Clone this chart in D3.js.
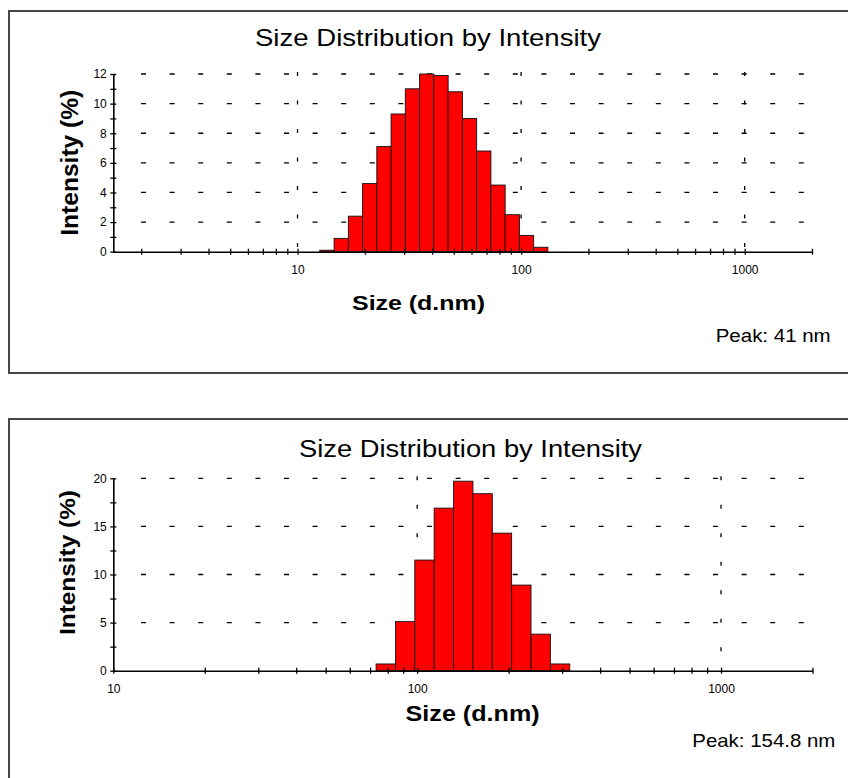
<!DOCTYPE html>
<html>
<head>
<meta charset="utf-8">
<script src="https://cdn.jsdelivr.net/npm/d3@7"></script>
<style>
  html, body { margin: 0; padding: 0; background: #fff; }
  svg { display: block; }
</style>
</head>
<body>
<svg id="chart"></svg>
<script>
// size classes (d.nm) and intensity (%)
const topSizes = [13.54, 15.69, 18.17, 21.04, 24.36, 28.21, 32.67, 37.84, 43.82, 50.75, 58.77, 68.06, 78.82, 91.28, 105.7, 122.4]
const topIntensity = [0.1, 0.9, 2.4, 4.6, 7.1, 9.3, 11.0, 12.0, 11.9, 10.8, 9.0, 6.8, 4.5, 2.5, 1.1, 0.3]
const bottomSizes = [78.82, 91.28, 105.7, 122.4, 141.8, 164.2, 190.1, 220.2, 255.0, 295.3]
const bottomIntensity = [0.7, 5.1, 11.5, 16.9, 19.7, 18.4, 14.3, 8.9, 3.8, 0.7]

const xTickLabels = [10, 100, 1000]
const topYLabels = [0, 2, 4, 6, 8, 10, 12]
const bottomYLabels = [0, 5, 10, 15, 20]

const chartTitle = 'Size Distribution by Intensity'
const xTitle = 'Size (d.nm)'
const yTitle = 'Intensity (%)'
const topPeak = 'Peak: 41 nm'
const bottomPeak = 'Peak: 154.8 nm'

const font = "'Liberation Sans', Arial, sans-serif"

const svg = d3.select('#chart')
  .attr('width', 848)
  .attr('height', 778)

const panels = [
  {
    sizes: topSizes, values: topIntensity, yLabels: topYLabels, peak: topPeak,
    xDomain: [1.5, 2000], yMax: 12, yStep: 1,
    frame: {y: 11, h: 362},
    plot: {left: 113.3, right: 812, top: 74, bottom: 251.7},
    title: {x: 255, y: 46, size: 24, len: 346},
    xLab: {x: 352, y: 310, size: 21, len: 133},
    yLab: {x: 78, y: 162.7, size: 23, len: 146},
    peakLab: {x: 715.7, y: 342.3, size: 18, len: 115}
  },
  {
    sizes: bottomSizes, values: bottomIntensity, yLabels: bottomYLabels, peak: bottomPeak,
    xDomain: [10, 2000], yMax: 20, yStep: 2.5,
    frame: {y: 419, h: 400},
    plot: {left: 113.3, right: 812.5, top: 478.3, bottom: 670.7},
    title: {x: 299, y: 456.7, size: 23, len: 343},
    xLab: {x: 405.6, y: 721.4, size: 22, len: 134},
    yLab: {x: 75, y: 562.5, size: 22, len: 145},
    peakLab: {x: 692.3, y: 747, size: 19, len: 143}
  }
]

panels.forEach(p => drawPanel(p))

function drawPanel(p) {
  const g = svg.append('g')

  g.append('rect')
    .attr('x', 9)
    .attr('y', p.frame.y)
    .attr('width', 900)
    .attr('height', p.frame.h)
    .attr('fill', 'none')
    .attr('stroke', '#474747')
    .attr('stroke-width', 2)

  const x = d3.scaleLog().domain(p.xDomain).range([p.plot.left, p.plot.right])
  const y = d3.scaleLinear().domain([0, p.yMax]).range([p.plot.bottom, p.plot.top])

  // dashed grid
  g.append('g')
    .selectAll('line')
    .data(p.yLabels.filter(d => d > 0))
    .join('line')
    .attr('x1', p.plot.left + 27.7)
    .attr('x2', p.plot.right - 4)
    .attr('y1', d => y(d))
    .attr('y2', d => y(d))
    .attr('stroke', '#000')
    .attr('stroke-width', 1.3)
    .attr('stroke-dasharray', '5,23.6')

  g.append('g')
    .selectAll('line')
    .data(xTickLabels.filter(d => d > p.xDomain[0]))
    .join('line')
    .attr('x1', d => x(d))
    .attr('x2', d => x(d))
    .attr('y1', y(p.yMax) - 2)
    .attr('y2', y(0) - 3)
    .attr('stroke', '#000')
    .attr('stroke-width', 1.3)
    .attr('stroke-dasharray', '4,24.5')

  // bars centred on each size class, edges half a class step either side
  const half = Math.sqrt(p.sizes[1] / p.sizes[0])
  const bars = p.sizes.map((s, i) => ({size: s, value: p.values[i]}))

  g.append('g')
    .selectAll('rect')
    .data(bars)
    .join('rect')
    .attr('x', d => x(d.size / half))
    .attr('width', d => x(d.size * half) - x(d.size / half))
    .attr('y', d => y(d.value))
    .attr('height', d => y(0) - y(d.value))
    .attr('fill', '#ff0000')
    .attr('stroke', '#111')
    .attr('stroke-width', 0.9)

  // axes with crossing ticks
  const axisX = d3.axisBottom(x)
    .tickValues(x.ticks())
    .tickFormat(d => xTickLabels.includes(d) ? d : '')
    .tickSizeOuter(0)

  const gx = g.append('g')
    .attr('transform', `translate(0, ${y(0)})`)
    .call(axisX)
    .attr('font-family', font)
    .attr('font-size', 12)
  gx.select('.domain').attr('stroke-width', 1.6)
  gx.selectAll('.tick line').attr('y1', -3).attr('y2', 3).attr('stroke-width', 1.3)
  gx.selectAll('.tick text').attr('y', 13.5).attr('fill', '#000')

  const axisY = d3.axisLeft(y)
    .tickValues(d3.range(0, p.yMax + 0.001, p.yStep))
    .tickFormat(d => p.yLabels.includes(d) ? d : '')
    .tickSizeOuter(0)

  const gy = g.append('g')
    .attr('transform', `translate(${p.plot.left}, 0)`)
    .call(axisY)
    .attr('font-family', font)
    .attr('font-size', 12)
  gy.select('.domain').attr('stroke-width', 1.6)
  gy.selectAll('.tick line').attr('x1', -3).attr('x2', 3).attr('stroke-width', 1.3)
  gy.selectAll('.tick text').attr('x', -6.5).attr('fill', '#000')

  // texts
  g.append('text')
    .attr('x', p.title.x)
    .attr('y', p.title.y)
    .attr('font-family', font)
    .attr('font-size', p.title.size)
    .attr('textLength', p.title.len)
    .attr('lengthAdjust', 'spacingAndGlyphs')
    .text(chartTitle)

  g.append('text')
    .attr('x', p.xLab.x)
    .attr('y', p.xLab.y)
    .attr('font-family', font)
    .attr('font-weight', 'bold')
    .attr('font-size', p.xLab.size)
    .attr('textLength', p.xLab.len)
    .attr('lengthAdjust', 'spacingAndGlyphs')
    .text(xTitle)

  g.append('text')
    .attr('transform', `translate(${p.yLab.x}, ${p.yLab.y}) rotate(-90)`)
    .attr('x', -p.yLab.len / 2)
    .attr('font-family', font)
    .attr('font-weight', 'bold')
    .attr('font-size', p.yLab.size)
    .attr('textLength', p.yLab.len)
    .attr('lengthAdjust', 'spacingAndGlyphs')
    .text(yTitle)

  g.append('text')
    .attr('x', p.peakLab.x)
    .attr('y', p.peakLab.y)
    .attr('font-family', font)
    .attr('font-size', p.peakLab.size)
    .attr('textLength', p.peakLab.len)
    .attr('lengthAdjust', 'spacingAndGlyphs')
    .text(p.peak)
}
</script>
</body>
</html>
